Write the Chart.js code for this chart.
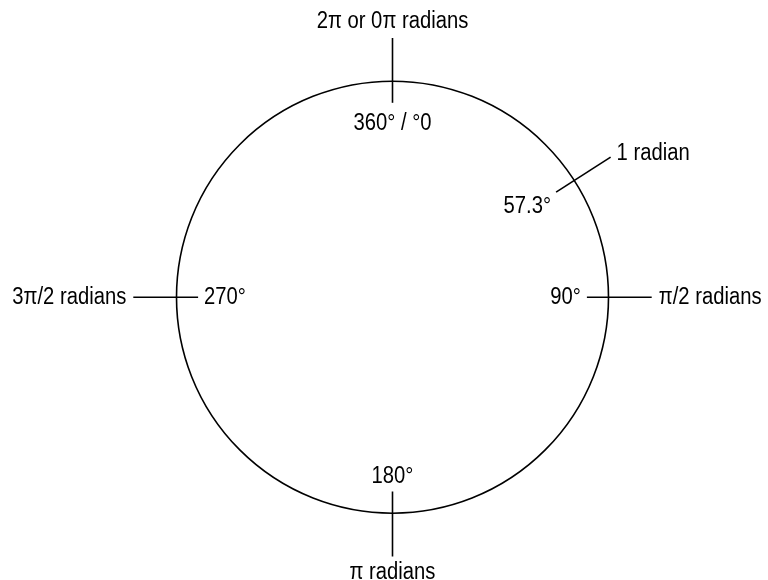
<!DOCTYPE html>
<html>
<head>
<meta charset="utf-8">
<script src="https://cdn.jsdelivr.net/npm/chart.js@4"></script>
<style>
  html, body { margin: 0; padding: 0; background: #fff; }
  #wrap { width: 768px; height: 580px; position: relative; }
</style>
</head>
<body>
<div id="wrap"><canvas id="circle-chart"></canvas></div>
<script>
// marked angles, degrees clockwise from the top
const angles = [0, 57.3, 90, 180, 270];
const degreeLabels = ['360° / °0', '57.3°', '90°', '180°', '270°'];
const radianLabels = ['2π or 0π radians', '1 radian', 'π/2 radians', 'π radians', '3π/2 radians'];

const R_IN = 0.9, R_OUT = 1.2;
const FONT = '23px "Liberation Sans", Arial, sans-serif';
const SQUEEZE = 0.88;

function polar(deg, r) {
  const a = deg * Math.PI / 180;
  return { x: r * Math.sin(a), y: r * Math.cos(a) };
}

const tickSets = angles.map(a => ({
  data: [polar(a, R_IN), polar(a, R_OUT)],
  showLine: true,
  borderColor: '#000',
  borderWidth: 1.6,
  pointRadius: 0,
  pointHoverRadius: 0
}));

function drawText(ctx, txt, x, y, align, base) {
  ctx.save();
  ctx.translate(x, y);
  ctx.scale(SQUEEZE, 1);
  ctx.textAlign = align;
  ctx.textBaseline = base;
  ctx.fillText(txt, 0, 0);
  ctx.restore();
}

const circlePlugin = {
  id: 'circle',
  beforeDraw(chart) {
    const c = chart.ctx;
    c.save();
    c.fillStyle = '#fff';
    c.fillRect(0, 0, chart.width, chart.height);
    c.restore();
  },
  beforeDatasetsDraw(chart) {
    const { ctx, scales: { x, y } } = chart;
    const cx = x.getPixelForValue(0), cy = y.getPixelForValue(0);
    const r = x.getPixelForValue(1) - cx;
    ctx.save();
    ctx.beginPath();
    ctx.arc(cx, cy, r, 0, Math.PI * 2);
    ctx.strokeStyle = '#000';
    ctx.lineWidth = 1.6;
    ctx.stroke();
    ctx.restore();
  },
  afterDatasetsDraw(chart) {
    const { ctx, scales: { x, y } } = chart;
    const unit = x.getPixelForValue(1) - x.getPixelForValue(0);
    ctx.save();
    ctx.fillStyle = '#000';
    ctx.font = FONT;
    angles.forEach((a, i) => {
      const s = Math.sin(a * Math.PI / 180), co = Math.cos(a * Math.PI / 180);
      const side = Math.abs(s) < 0.1;
      // outer label (radians)
      let p = polar(a, R_OUT + (side ? 16 : 7) / unit);
      drawText(ctx, radianLabels[i], x.getPixelForValue(p.x), y.getPixelForValue(p.y),
        side ? 'center' : (s > 0 ? 'left' : 'right'), 'middle');
      // inner label (degrees)
      p = polar(a, R_IN - (side ? (co > 0 ? 21 : 15) : 6) / unit);
      const slant = !side && Math.abs(co) > 0.1;
      drawText(ctx, degreeLabels[i], x.getPixelForValue(p.x), y.getPixelForValue(p.y),
        side ? 'center' : (s > 0 ? 'right' : 'left'), slant ? 'top' : 'middle');
    });
    ctx.restore();
  }
};

new Chart(document.getElementById('circle-chart'), {
  type: 'scatter',
  data: { datasets: tickSets },
  options: {
    responsive: true,
    maintainAspectRatio: false,
    animation: false,
    events: [],
    layout: { padding: 0 },
    plugins: { legend: { display: false }, tooltip: { enabled: false } },
    scales: {
      x: { display: false, min: -392.5 / 216, max: 375.5 / 216 },
      y: { display: false, min: -282.8 / 216, max: 297.2 / 216 }
    }
  },
  plugins: [circlePlugin]
});
</script>
</body>
</html>
